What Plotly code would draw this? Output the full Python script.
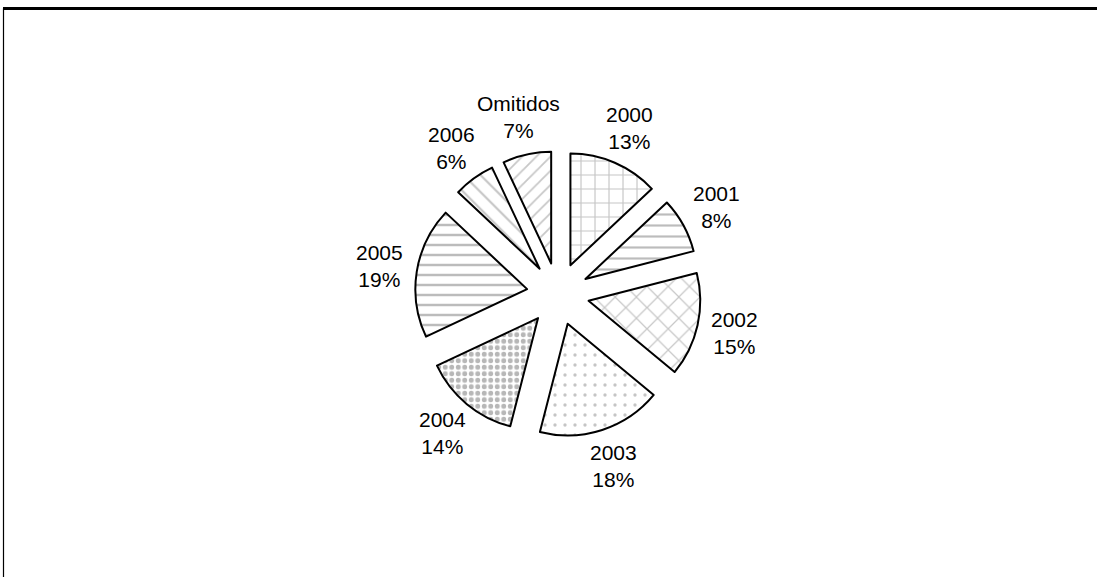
import math
import plotly.graph_objects as go

categories = ["2000", "2001", "2002", "2003", "2004", "2005", "2006", "Omitidos"]
values = [13, 8, 15, 18, 14, 19, 6, 7]
patterns = ["+", "-", "x", ".", ".", "-", "\\", "/"]
pattern_sizes = [14, 11, 15, 10, 6.5, 10, 12, 10]
pattern_solid = [0.16, 0.2, 0.16, 0.09, 0.45, 0.25, 0.18, 0.18]
pattern_colors = ["#8c8c8c", "#7a7a7a", "#909090", "#8c8c8c", "#707070", "#7a7a7a", "#8c8c8c", "#909090"]

W, H = 1097, 577
cx, cy, half = 558, 294, 143
label_radius = 181

fig = go.Figure(go.Pie(
    labels=categories,
    values=values,
    sort=False,
    direction="clockwise",
    rotation=0,
    pull=[0.28] * len(values),
    textinfo="none",
    marker=dict(
        colors=["white"] * len(values),
        line=dict(color="black", width=2),
        pattern=dict(shape=patterns, size=pattern_sizes, solidity=pattern_solid,
                     fgcolor=pattern_colors, bgcolor="white", fillmode="overlay"),
    ),
    domain=dict(x=[(cx - half) / W, (cx + half) / W],
                y=[1 - (cy + half) / H, 1 - (cy - half) / H]),
    showlegend=False,
    hoverinfo="label+percent",
))

# labels placed at each slice's mid-angle (derived from the values)
total = sum(values)
annotations = []
cum = 0
for cat, v in zip(categories, values):
    mid = (cum + v / 2) / total * 2 * math.pi
    cum += v
    px = cx + label_radius * math.sin(mid)
    py = cy - label_radius * math.cos(mid)
    pct = round(v / total * 100)
    annotations.append(dict(
        x=px / W, y=1 - py / H, xref="paper", yref="paper",
        text=f"{cat}<br>{pct}%", showarrow=False,
        xanchor="center", yanchor="middle", align="center",
        font=dict(family="Liberation Sans, Arial, sans-serif", size=21, color="black"),
    ))

fig.update_layout(
    width=W, height=H,
    margin=dict(l=0, r=0, t=0, b=0),
    paper_bgcolor="white",
    plot_bgcolor="white",
    annotations=annotations,
    shapes=[
        dict(type="line", xref="paper", yref="paper", x0=3 / W, x1=1.0,
             y0=1 - 8.5 / H, y1=1 - 8.5 / H, line=dict(color="black", width=3)),
        dict(type="line", xref="paper", yref="paper", x0=3.5 / W, x1=3.5 / W,
             y0=0, y1=1 - 8.5 / H, line=dict(color="black", width=1.2)),
    ],
)

fig.write_html("out.html", config={"displayModeBar": False},
               post_script="document.body.style.margin='0';")
